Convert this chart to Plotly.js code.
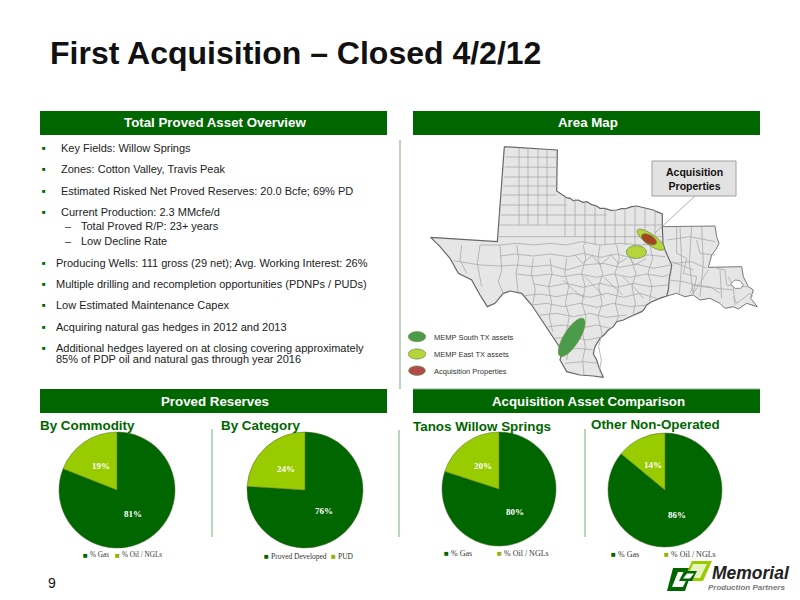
<!DOCTYPE html>
<html>
<head>
<meta charset="utf-8">
<script src="https://cdn.plot.ly/plotly-3.0.1.min.js"></script>
<style>html,body{margin:0;padding:0;background:#fff}#chart{width:800px;height:600px}</style>
</head>
<body>
<div id="chart"></div>
<script>
const GREEN = "#006600";
const LIME = "#99CC00";
const RULE = "#8fb98f";
const SANS = "Liberation Sans, Arial, sans-serif";
const SERIF = "Liberation Serif, Times New Roman, serif";

// pie data
const commodityLabels = ["% Gas", "% Oil / NGLs"];
const commodityValues = [81, 19];
const categoryLabels = ["Proved Developed", "PUD"];
const categoryValues = [76, 24];
const tanosLabels = ["% Gas", "% Oil / NGLs"];
const tanosValues = [80, 20];
const otherLabels = ["% Gas", "% Oil / NGLs"];
const otherValues = [86, 14];

// bullets: [text, y, x]
const bullets = [
  ["Key Fields: Willow Springs", 148, 60],
  ["Zones: Cotton Valley, Travis Peak", 169, 60],
  ["Estimated Risked Net Proved Reserves: 20.0 Bcfe; 69% PD", 190.5, 60],
  ["Current Production: 2.3 MMcfe/d", 211.5, 60],
  ["Producing Wells: 111 gross (29 net); Avg. Working Interest: 26%", 263, 55],
  ["Multiple drilling and recompletion opportunities (PDNPs / PUDs)", 284, 55],
  ["Low Estimated Maintenance Capex", 305, 55],
  ["Acquiring natural gas hedges in 2012 and 2013", 326.5, 55],
  ["Additional hedges layered on at closing covering approximately", 347.5, 55],
];
const subBullets = [["Total Proved R/P: 23+ years", 226.5], ["Low Decline Rate", 241]];

// map outlines (x, y in map units)
const texasX = [313,472,470,490,500,510,520,535,548,560,575,590,600,615,632,650,665,680,695,710,728,745,760,770,787,787,789,795,803,815,812,808,805,800,785,770,755,740,732,725,705,690,670,650,640,625,612,600,585,580,590,598,610,580,540,500,480,485,478,465,450,425,395,365,330,310,285,262,240,215,175,150,120,92,292,313];
const texasY = [50,60,183,195,203,205,212,210,217,215,224,228,235,235,241,240,236,235,230,228,232,235,240,245,252,290,340,360,380,405,425,445,480,498,503,510,515,525,538,545,553,560,570,575,590,600,615,625,650,672,690,715,742,738,735,725,690,670,650,630,605,570,525,490,483,490,520,530,495,450,430,385,350,322,335,50];
const louisianaX = [787,945,950,957,948,935,925,1025,1030,1045,1060,1052,1072,1040,1015,1000,975,960,930,900,880,855,830,800];
const louisianaY = [290,288,320,340,358,375,412,410,440,470,480,505,530,520,537,530,535,520,505,510,495,500,490,498];
const bayX = [992,1005,1020,1030,1022,1005,992];
const bayY = [462,450,452,465,475,475,462];
// county lines, null separates one line from the next
const countyX = [357,357,null,384,384,null,414,414,null,441,441,null,
  316,470,null,314,470,null,312,470,null,310,470,null,307,470,null,304,500,null,302,620,null,298,785,null,
  495,495,null,525,525,null,555,555,null,585,585,null,615,615,null,645,645,null,675,675,null,705,705,null,735,735,null,765,765,null,
  296,785,null,240,300,350,400,450,500,545,600,660,725,787,null,
  300,345,400,450,505,550,600,650,700,745,795,null,
  160,240,300,350,400,450,500,550,610,660,710,760,812,null,
  350,400,450,490,540,590,640,690,740,790,810,null,
  400,450,500,550,600,650,700,750,806,null,
  375,420,470,520,570,620,670,720,770,null,
  395,440,490,540,590,640,690,740,null,
  420,470,520,570,620,680,null,
  445,490,540,590,630,null,
  465,510,560,600,null,
  480,530,585,null,
  495,550,595,null,
  240,232,245,null,185,180,200,null,300,305,295,310,null,
  350,356,348,354,350,null,400,394,406,398,405,null,
  450,456,446,455,448,458,450,null,
  500,494,506,496,508,498,506,500,null,
  550,557,545,556,546,558,548,556,548,552,null,
  600,594,608,596,606,594,606,596,604,598,null,
  650,658,645,656,646,656,648,null,
  700,692,708,696,706,698,null,
  750,758,744,756,748,null,
  525,548,578,null,575,600,630,null,630,655,680,null,680,705,738,null,490,520,555,null,555,585,612,null,612,640,668,null,668,700,730,null,
  800,870,945,null,830,830,860,850,890,880,925,null,890,900,945,null,820,875,920,null,805,850,905,1000,null,950,975,980,1030,null,870,880,930,960,null,985,1000,1045,null,1000,1010,1050,1060,null,
  840,845,838,null,875,868,880,null,905,910,900,null,815,850,880,915,null,960,965,958,null,1000,1005,998];
const countyY = [55,285,null,55,285,null,57,285,null,58,285,null,
  81,82,null,111,112,null,141,141,null,168,168,null,195,195,null,225,225,null,255,255,null,285,285,null,
  195,320,null,205,320,null,215,345,null,228,345,null,235,345,null,240,345,null,235,345,null,228,345,null,235,345,null,240,345,null,
  320,320,null,345,345,340,345,340,345,335,345,340,345,340,null,
  378,372,378,372,380,370,382,372,385,375,380,null,
  392,405,408,405,410,405,420,405,400,412,402,415,405,null,
  432,438,432,440,432,442,432,442,432,440,432,null,
  462,470,460,472,460,472,460,470,465,null,
  497,492,500,490,502,490,502,490,505,null,
  525,520,530,520,532,520,530,525,null,
  555,550,560,550,562,555,null,
  590,585,595,585,595,null,
  625,620,630,622,null,
  660,655,660,null,
  700,695,700,null,
  345,400,470,null,345,390,430,null,345,420,455,490,null,
  345,385,430,485,null,345,385,430,480,525,null,
  345,385,430,470,520,560,605,null,
  345,385,430,470,520,560,610,650,690,null,
  345,385,430,470,520,560,610,650,690,735,null,
  345,385,430,470,520,560,610,650,690,725,null,
  345,385,430,470,520,560,575,null,
  345,385,430,470,520,560,null,
  345,385,430,470,515,null,
  375,400,375,null,375,405,380,null,372,400,385,null,372,405,385,null,450,480,505,null,440,470,500,null,442,470,495,null,440,470,505,null,
  330,320,335,null,290,370,385,430,440,490,420,null,330,370,375,null,400,395,415,null,450,455,470,480,null,415,420,465,470,null,490,465,470,490,null,440,470,470,null,500,520,490,500,null,
  290,400,490,null,290,400,495,null,290,400,500,null,395,408,420,null,290,420,505,null,410,470,525];

// ellipses [cx, cy, half length, half width, angle, fill]
const ellipses = [
  [515, 622, 66, 23, -58, "#4a9c4a"],
  [709, 366, 30, 19, 0, "#b5d53c"],
  [752, 329, 49, 16, 36, "#b5d53c"],
  [747, 328, 25, 13, 30, "#a5431f"],
  [51, 620, 26, 15, 0, "#4a9c4a"],
  [51, 672, 26, 15, 0, "#b5d53c"],
  [51, 722, 25, 14, 0, "#b34a4a"],
];
const mapLegend = [["MEMP South TX assets", 337], ["MEMP East TX assets", 354.5], ["Acquisition Properties", 371]];

const headers = [
  ["Total Proved Asset Overview", 40, 387, 111, 135],
  ["Area Map", 413, 760, 111, 135],
  ["Proved Reserves", 40, 387, 389, 413],
  ["Acquisition Asset Comparison", 413, 760, 389, 413],
];
const subTitles = [["By Commodity", 40, 425], ["By Category", 221, 425], ["Tanos Willow Springs", 413, 426], ["Other Non-Operated", 591, 424]];
const dividers = [[400, 140, 389], [212, 429, 537], [399, 430, 537], [585, 429, 537]];

// one row per pie: labels, values, centre x, centre y, radius, legend y, legend x per entry, legend font size
const pies = [
  [commodityLabels, commodityValues, 117, 490, 58, 555, [86, 118], 7.2],
  [categoryLabels, categoryValues, 305, 490, 58, 556, [267, 334], 7.5],
  [tanosLabels, tanosValues, 499, 489, 57, 553, [447, 500], 8],
  [otherLabels, otherValues, 665, 490, 57, 554, [614, 667], 8],
];

const px = (x) => x / 800;
const py = (y) => 1 - y / 600;

function text(t, x, y, size, color, opts = {}) {
  return {
    text: t, xref: "paper", yref: "paper", x: px(opts.anchor ? x : x - 1), y: py(y), showarrow: false,
    xanchor: opts.anchor || "left", yanchor: "middle", align: opts.anchor === "center" ? "center" : "left",
    font: { family: opts.family || SANS, size, color }, borderpad: 0,
  };
}

function ellipsePath([cx, cy, a, b, deg]) {
  const t = (deg * Math.PI) / 180;
  const pts = [];
  for (let i = 0; i < 48; i++) {
    const u = (i / 48) * 2 * Math.PI;
    const ex = a * Math.cos(u), ey = b * Math.sin(u);
    pts.push(`${i ? "L" : "M"} ${cx + ex * Math.cos(t) - ey * Math.sin(t)} ${cy + ex * Math.sin(t) + ey * Math.cos(t)}`);
  }
  return pts.join(" ") + " Z";
}

function pie([labels, values, cx, cy, r]) {
  return {
    type: "pie", labels, values, sort: false, direction: "clockwise", rotation: 0,
    domain: { x: [px(cx - r), px(cx + r)], y: [py(cy + r), py(cy - r)] },
    marker: { colors: [GREEN, LIME], line: { color: "#4d6b2a", width: 0.5 } },
    textinfo: "none", hoverinfo: "skip", showlegend: false,
  };
}

// percent labels sit halfway along each slice's middle radius
function pieLabels([, values, cx, cy, r]) {
  const total = values.reduce((a, b) => a + b, 0);
  let start = 0;
  return values.map((v) => {
    const mid = ((start + v / 2) / total) * 2 * Math.PI;
    start += v;
    return text(`<b>${v}%</b>`, cx + 0.49 * r * Math.sin(mid), cy - 0.49 * r * Math.cos(mid), 9, "#fff", { anchor: "center", family: SERIF });
  });
}

function pieLegend([labels, , , , , y, xs, size]) {
  return labels.flatMap((label, i) => [
    text("■", xs[i] - 3.5, y, 8, i ? "#8fb300" : GREEN),
    text(label, xs[i] + 4, y, size, "#333", { family: SERIF }),
  ]);
}

const line = (x0, y0, x1, y1, color, width) => ({
  type: "line", xref: "paper", yref: "paper", x0: px(x0), y0: py(y0), x1: px(x1), y1: py(y1), line: { color, width },
});
const logoPath = (d, fill) => ({
  type: "path", xref: "paper", yref: "paper", line: { width: 0 }, fillcolor: fill,
  path: d.map(([x, y], i) => `${i ? "L" : "M"} ${px(x)} ${py(y)}`).join(" ") + " Z",
});
const region = (x, y, fillcolor, color, width) => ({
  type: "scatter", mode: "lines", x, y, fill: "toself", fillcolor, line: { color, width }, hoverinfo: "skip", showlegend: false,
});

const traces = [
  region(louisianaX, louisianaY, "#e6e6e6", "#777", 1),
  region(texasX, texasY, "#e6e6e6", "#666", 1.2),
  { type: "scatter", mode: "lines", x: countyX, y: countyY, line: { color: "#a9a9a9", width: 0.8 }, hoverinfo: "skip", showlegend: false },
  region(bayX, bayY, "#fff", "#777", 0.8),
  ...pies.map(pie),
];

const shapes = [
  ...headers.map(([, x0, x1, y0, y1]) => ({ type: "rect", xref: "paper", yref: "paper", x0: px(x0), x1: px(x1), y0: py(y0), y1: py(y1), fillcolor: GREEN, line: { width: 0 } })),
  ...dividers.map(([x, y0, y1]) => line(x, y0, x, y1, RULE, 1.2)),
  line(413, 389, 760, 389, RULE, 1),
  // map overlays
  ...ellipses.map((e) => ({ type: "path", xref: "x", yref: "y", path: ellipsePath(e), fillcolor: e[5], line: { color: "#6f8f4a", width: 0.8 } })),
  line(695, 196, 655, 233, "#999", 0.8),
  { type: "rect", xref: "paper", yref: "paper", x0: px(652), x1: px(736), y0: py(161), y1: py(196), fillcolor: "#e2e2e2", line: { color: "#a0a0a0", width: 1 } },
  // logo
  logoPath([[673, 568], [693, 568], [685, 591], [667, 591]], GREEN),
  logoPath([[678, 572], [690, 572], [683, 587], [672, 587]], "#ffffff"),
  logoPath([[692, 561], [712, 561], [703, 581], [683, 581]], LIME),
  logoPath([[693, 564], [707, 564], [700, 578], [687, 578]], "#e8f3c0"),
  logoPath([[684, 571], [697, 571], [692, 581], [679, 581]], GREEN),
  logoPath([[687, 573.5], [694, 573.5], [690, 578.5], [683, 578.5]], "#ffffff"),
];

const annotations = [
  ...headers.map(([t, x0, x1, y0, y1]) => text(`<b>${t}</b>`, (x0 + x1) / 2 + 1.5, (y0 + y1) / 2, 13.3, "#fff", { anchor: "center" })),
  ...bullets.map(([t, y, x]) => text(t, x + 0.5, y, 11, "#222")),
  ...bullets.map(([, y]) => text("■", 41.5, y, 6, GREEN)),
  text("85% of PDP oil and natural gas through year 2016", 55.5, 359, 11, "#222"),
  ...subBullets.map(([t, y]) => text(t, 80.5, y, 11, "#222")),
  ...subBullets.map(([, y]) => text("–", 65, y, 11, "#333")),
  ...subTitles.map(([t, x, y]) => text(`<b>${t}</b>`, x, y, 13.4, GREEN)),
  ...mapLegend.map(([t, y]) => text(t, 434, y, 7.5, "#333")),
  text("<b>Acquisition<br>Properties</b>", 694, 178.5, 10.5, "#111", { anchor: "center" }),
  ...pies.flatMap(pieLabels),
  ...pies.flatMap(pieLegend),
  text("9", 48, 583, 14, "#111"),
  text("<b><i>Memorial</i></b>", 712, 572.5, 17.5, "#222"),
  text("<b><i>Production Partners</i></b>", 708, 587.5, 8, "#7a7a7a"),
];

const hiddenAxis = { visible: false, fixedrange: true, zeroline: false, showgrid: false };

const layout = {
  width: 800, height: 600, margin: { l: 0, r: 0, t: 0, b: 0 },
  paper_bgcolor: "#fff", plot_bgcolor: "rgba(0,0,0,0)",
  title: { text: "<b>First Acquisition – Closed 4/2/12</b>", x: 50 / 800, xanchor: "left", y: py(53), yanchor: "middle", font: { family: SANS, size: 32, color: "#111" } },
  xaxis: { ...hiddenAxis, range: [-1200, 1200] },
  yaxis: { ...hiddenAxis, range: [1410, -390] },
  showlegend: false,
  shapes, annotations,
};

Plotly.newPlot("chart", traces, layout, { displayModeBar: false, staticPlot: true });
</script>
</body>
</html>
